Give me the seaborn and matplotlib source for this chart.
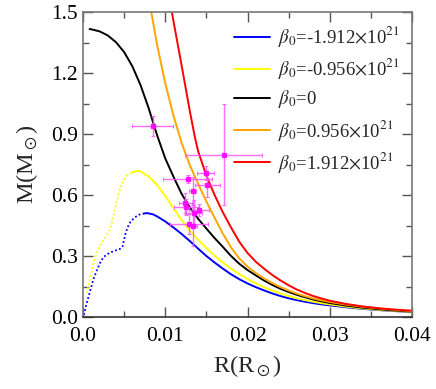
import numpy as np
import pandas as pd
import matplotlib
matplotlib.use("Agg")
import matplotlib.pyplot as plt
import seaborn as sns

sns.set_style("ticks")
plt.rcParams['font.family'] = ['Liberation Serif', 'DejaVu Serif']
plt.rcParams['mathtext.fontset'] = 'stix'

# ---- curves (R in R_sun, M in M_sun) ----
# beta0 = -1.912e21 (blue): dotted (unstable) branch, then solid branch
blue_dot_x = [0.0001, 0.0004, 0.0009, 0.0013, 0.0017, 0.0021, 0.0025, 0.0030, 0.0035, 0.0040, 0.0045, 0.0048,
              0.0051, 0.0054, 0.0058, 0.0063, 0.0068, 0.0074]
blue_dot_y = [0.010, 0.060, 0.133, 0.190, 0.231, 0.268, 0.295, 0.310, 0.320, 0.328, 0.335, 0.345,
              0.400, 0.440, 0.470, 0.490, 0.503, 0.509]
blue_x = [0.0074, 0.0078, 0.0085, 0.009, 0.010, 0.011, 0.012, 0.013, 0.014, 0.015, 0.016, 0.017, 0.018, 0.019,
          0.020, 0.021, 0.022, 0.023, 0.024, 0.025, 0.026, 0.027, 0.028, 0.029, 0.030, 0.032, 0.034, 0.036,
          0.038, 0.040]
blue_y = [0.509, 0.511, 0.505, 0.495, 0.470, 0.440, 0.408, 0.373, 0.336, 0.300, 0.268, 0.238, 0.210, 0.186,
          0.165, 0.147, 0.131, 0.116, 0.103, 0.092, 0.083, 0.075, 0.068, 0.062, 0.057, 0.048, 0.040, 0.034,
          0.029, 0.024]

# beta0 = -0.956e21 (yellow)
yel_dot_x = [0.00049, 0.0008, 0.0012, 0.0015, 0.0020, 0.0025, 0.0030, 0.0033, 0.0036, 0.0040, 0.0044, 0.0049,
             0.0054, 0.0060]
yel_dot_y = [0.117, 0.180, 0.250, 0.297, 0.345, 0.379, 0.410, 0.428, 0.480, 0.550, 0.615, 0.670,
             0.700, 0.712]
yel_x = [0.0060, 0.0066, 0.007, 0.008, 0.009, 0.010, 0.011, 0.012, 0.013, 0.014, 0.015, 0.016, 0.017, 0.018,
         0.019, 0.020, 0.021, 0.022, 0.023, 0.024, 0.025, 0.026, 0.027, 0.028, 0.029, 0.030, 0.032, 0.034,
         0.036, 0.038, 0.040]
yel_y = [0.712, 0.718, 0.716, 0.690, 0.650, 0.595, 0.535, 0.476, 0.425, 0.380, 0.340, 0.302, 0.268, 0.238,
         0.211, 0.187, 0.166, 0.147, 0.130, 0.116, 0.103, 0.092, 0.083, 0.075, 0.068, 0.062, 0.051, 0.042,
         0.035, 0.030, 0.025]

# beta0 = 0 (black)
blk_x = [0.0008, 0.001, 0.002, 0.003, 0.004, 0.005, 0.006, 0.007, 0.008, 0.009, 0.010, 0.011, 0.012, 0.013,
         0.014, 0.015, 0.016, 0.017, 0.018, 0.019, 0.020, 0.021, 0.022, 0.023, 0.024, 0.025, 0.026, 0.027,
         0.028, 0.029, 0.030, 0.032, 0.034, 0.036, 0.038, 0.040]
blk_y = [1.416, 1.415, 1.405, 1.385, 1.352, 1.303, 1.233, 1.140, 1.025, 0.895, 0.780, 0.690, 0.605, 0.538,
         0.483, 0.435, 0.388, 0.345, 0.300, 0.262, 0.231, 0.205, 0.180, 0.158, 0.139, 0.123, 0.109, 0.097,
         0.086, 0.077, 0.069, 0.056, 0.046, 0.038, 0.032, 0.027]

# beta0 = 0.956e21 (orange)
org_x = [0.0080, 0.0083, 0.009, 0.010, 0.011, 0.012, 0.013, 0.014, 0.015, 0.016, 0.017, 0.018, 0.019, 0.020,
         0.021, 0.022, 0.023, 0.024, 0.025, 0.026, 0.027, 0.028, 0.029, 0.030, 0.032, 0.034, 0.036, 0.038, 0.040]
org_y = [1.560, 1.500, 1.340, 1.150, 0.990, 0.855, 0.745, 0.655, 0.568, 0.488, 0.410, 0.342, 0.288, 0.248,
         0.216, 0.190, 0.167, 0.147, 0.130, 0.115, 0.102, 0.091, 0.082, 0.074, 0.061, 0.050, 0.042, 0.035, 0.029]

# beta0 = 1.912e21 (red)
red_x = [0.0105, 0.0108, 0.011, 0.012, 0.013, 0.0136, 0.014, 0.015, 0.016, 0.017, 0.018, 0.019, 0.020, 0.021,
         0.022, 0.023, 0.024, 0.025, 0.026, 0.027, 0.028, 0.029, 0.030, 0.032, 0.034, 0.036, 0.038, 0.040]
red_y = [1.570, 1.500, 1.455, 1.235, 1.010, 0.885, 0.815, 0.695, 0.600, 0.515, 0.440, 0.370, 0.315, 0.272,
         0.238, 0.207, 0.180, 0.156, 0.135, 0.118, 0.103, 0.091, 0.080, 0.064, 0.052, 0.043, 0.036, 0.031]

labels = [r'$\beta_0$=-1.912$\times$10$^{21}$', r'$\beta_0$=-0.956$\times$10$^{21}$',
          r'$\beta_0$=0', r'$\beta_0$=0.956$\times$10$^{21}$', r'$\beta_0$=1.912$\times$10$^{21}$']
colors = ['#0000ff', '#ffff00', '#000000', '#ffa500', '#ff0000']

# ---- observed white dwarfs ----
obs_R = [0.00846, 0.01710, 0.01491, 0.01272, 0.01511, 0.01333, 0.01244, 0.01256, 0.01414, 0.01345, 0.01292, 0.01333]
obs_M = [0.940, 0.799, 0.707, 0.679, 0.650, 0.619, 0.560, 0.540, 0.528, 0.513, 0.458, 0.450]
obs_Rerr = [0.0025, 0.0047, 0.0010, 0.0030, 0.0015, 0.0004, 0.0008, 0.0015, 0.0012, 0.0010, 0.0023, 0.0005]
obs_Merr = [0.050, 0.250, 0.035, 0.020, 0.058, 0.070, 0.050, 0.040, 0.030, 0.060, 0.050, 0.100]

fig = plt.figure(figsize=(4.36, 3.89), dpi=100)
ax = fig.add_axes([83/436, 1 - 317/389, (412 - 83)/436, (317 - 12)/389])

solid = [(blue_x, blue_y), (yel_x, yel_y), (blk_x, blk_y), (org_x, org_y), (red_x, red_y)]
for (xs, ys), c, lab in zip(solid, colors, labels):
    df = pd.DataFrame({'R': xs, 'M': ys})
    sns.lineplot(data=df, x='R', y='M', color=c, lw=1.4, ax=ax, label=lab, sort=False)

for xs, ys, c in [(blue_dot_x, blue_dot_y, colors[0]), (yel_dot_x, yel_dot_y, colors[1])]:
    df = pd.DataFrame({'R': xs, 'M': ys})
    sns.lineplot(data=df, x='R', y='M', color=c, lw=1.3, ls=(0, (1, 1.3)), ax=ax, sort=False)

ax.errorbar(obs_R, obs_M, xerr=obs_Rerr, yerr=obs_Merr, fmt='s', ms=2.5,
            color='#ff00ff', ecolor='#ff55ff', elinewidth=1.0, capsize=1.5, capthick=0.8, alpha=0.85, zorder=5)

ax.set_xlim(0, 0.04)
ax.set_ylim(0, 1.5)
ax.set_xticks([0, 0.01, 0.02, 0.03, 0.04])
ax.set_xticklabels(['0.0', '0.01', '0.02', '0.03', '0.04'])
ax.set_yticks([0, 0.3, 0.6, 0.9, 1.2, 1.5])
ax.set_yticklabels(['0.0', '0.3', '0.6', '0.9', '1.2', '1.5'])
ax.set_xticks(np.arange(0.005, 0.04, 0.01), minor=True)
ax.set_yticks(np.arange(0.15, 1.5, 0.3), minor=True)
ax.tick_params(which='both', direction='in', top=True, right=True, labelsize=15.5,
               colors='#555555', labelcolor='black')
ax.tick_params(which='major', length=7, width=1)
ax.tick_params(which='minor', length=4, width=1)
ax.tick_params(axis='x', pad=7)
for s in ax.spines.values():
    s.set_color('#777777')
    s.set_linewidth(1.2)
ax.spines['bottom'].set_color('#333333')

ax.set_xlabel(r'R(R$_\odot$)', fontsize=17.5, labelpad=5)
ax.set_ylabel(r'M(M$_\odot$)', fontsize=17.5, labelpad=8)

leg = ax.legend(loc='upper right', frameon=False, fontsize=13.5, handlelength=1.9,
                handletextpad=0.45, labelspacing=0.38, borderaxespad=0.25)

fig.savefig('out.png', dpi=100)
